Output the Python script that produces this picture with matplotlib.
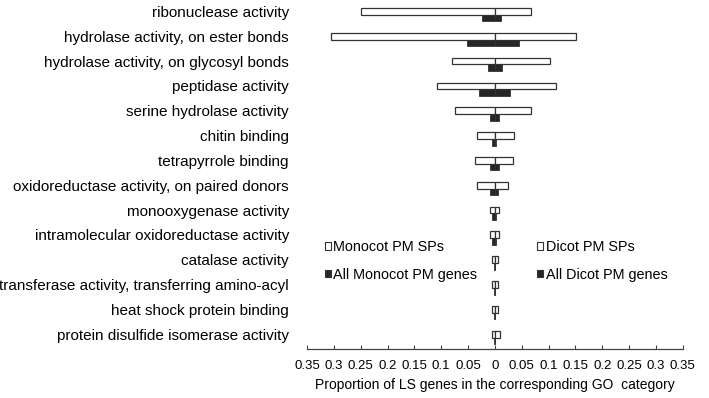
import numpy as np
import matplotlib.pyplot as plt
from matplotlib.patches import Patch
from matplotlib.ticker import FixedLocator, FuncFormatter

plt.rcParams['font.family'] = ['Liberation Sans', 'DejaVu Sans']

# GO 카테고리
categories = [
    'ribonuclease activity',
    'hydrolase activity, on ester bonds',
    'hydrolase activity, on glycosyl bonds',
    'peptidase activity',
    'serine hydrolase activity',
    'chitin binding',
    'tetrapyrrole binding',
    'oxidoreductase activity, on paired donors',
    'monooxygenase activity',
    'intramolecular oxidoreductase activity',
    'catalase activity',
    'transferase activity, transferring amino-acyl',
    'heat shock protein binding',
    'protein disulfide isomerase activity',
]

# 왼쪽 (Monocot), 오른쪽 (Dicot)
monocot_sp = [0.250, 0.305, 0.079, 0.107, 0.074, 0.034, 0.037, 0.034, 0.009, 0.009, 0.006, 0.006, 0.006, 0.006]
monocot_all = [0.024, 0.052, 0.0125, 0.029, 0.009, 0.0045, 0.009, 0.009, 0.0045, 0.005, 0.001, 0.001, 0.001, 0.001]
dicot_sp = [0.067, 0.151, 0.103, 0.114, 0.067, 0.035, 0.034, 0.025, 0.0075, 0.0085, 0.005, 0.005, 0.005, 0.010]
dicot_all = [0.011, 0.044, 0.013, 0.029, 0.008, 0.003, 0.0075, 0.006, 0.003, 0.003, 0.001, 0.001, 0.001, 0.001]

x_ticks = [-0.35, -0.3, -0.25, -0.2, -0.15, -0.1, -0.05, 0, 0.05, 0.1, 0.15, 0.2, 0.25, 0.3, 0.35]

if __name__ == '__main__':
    fig = plt.figure(figsize=(7.09, 3.98), dpi=100)
    ax = fig.add_axes([0.433, 0.123, 0.530, 0.872])

    y = np.arange(len(categories))
    h = 0.27
    edge = '#333333'
    dark = '#262626'

    # 흰 막대: PM SPs, 검은 막대: 전체 PM 유전자
    ax.barh(y, -np.array(monocot_sp), height=h, color='white', edgecolor=edge, linewidth=0.9)
    ax.barh(y, dicot_sp, height=h, color='white', edgecolor=edge, linewidth=0.9)
    ax.barh(y + h, -np.array(monocot_all), height=h, color=dark, edgecolor=edge, linewidth=0.6)
    ax.barh(y + h, dicot_all, height=h, color=dark, edgecolor=edge, linewidth=0.6)

    ax.set_xlim(-0.35, 0.35)
    ax.set_ylim(13.6, -0.38)
    ax.set_yticks(y)
    ax.set_yticklabels(categories, fontsize=11)
    ax.tick_params(axis='y', length=0, pad=13)

    ax.xaxis.set_major_locator(FixedLocator(x_ticks))
    ax.xaxis.set_major_formatter(FuncFormatter(lambda v, p: f'{abs(v):g}'))
    ax.tick_params(axis='x', direction='in', length=3, width=0.8, labelsize=9.5, pad=8, color='#444444')
    ax.set_xlabel('Proportion of LS genes in the corresponding GO  category', fontsize=10, labelpad=4)

    for s in ['top', 'left', 'right']:
        ax.spines[s].set_visible(False)
    ax.spines['bottom'].set_linewidth(0.9)
    ax.spines['bottom'].set_color('#444444')

    # 범례
    leg_kw = dict(frameon=False, fontsize=10.4, handlelength=0.42, handleheight=0.42,
                  handletextpad=0.15, labelspacing=0.95, borderpad=0, borderaxespad=0,
                  loc='upper left', bbox_transform=fig.transFigure)
    leg1 = ax.legend(handles=[Patch(facecolor='white', edgecolor=edge, linewidth=0.8, label='Monocot PM SPs'),
                              Patch(facecolor=dark, edgecolor=edge, linewidth=0.8, label='All Monocot PM genes')],
                     bbox_to_anchor=(0.458, 0.397), **leg_kw)
    ax.add_artist(leg1)
    ax.legend(handles=[Patch(facecolor='white', edgecolor=edge, linewidth=0.8, label='Dicot PM SPs'),
                       Patch(facecolor=dark, edgecolor=edge, linewidth=0.8, label='All Dicot PM genes')],
              bbox_to_anchor=(0.758, 0.397), **leg_kw)

    plt.savefig('out.png', dpi=100)
